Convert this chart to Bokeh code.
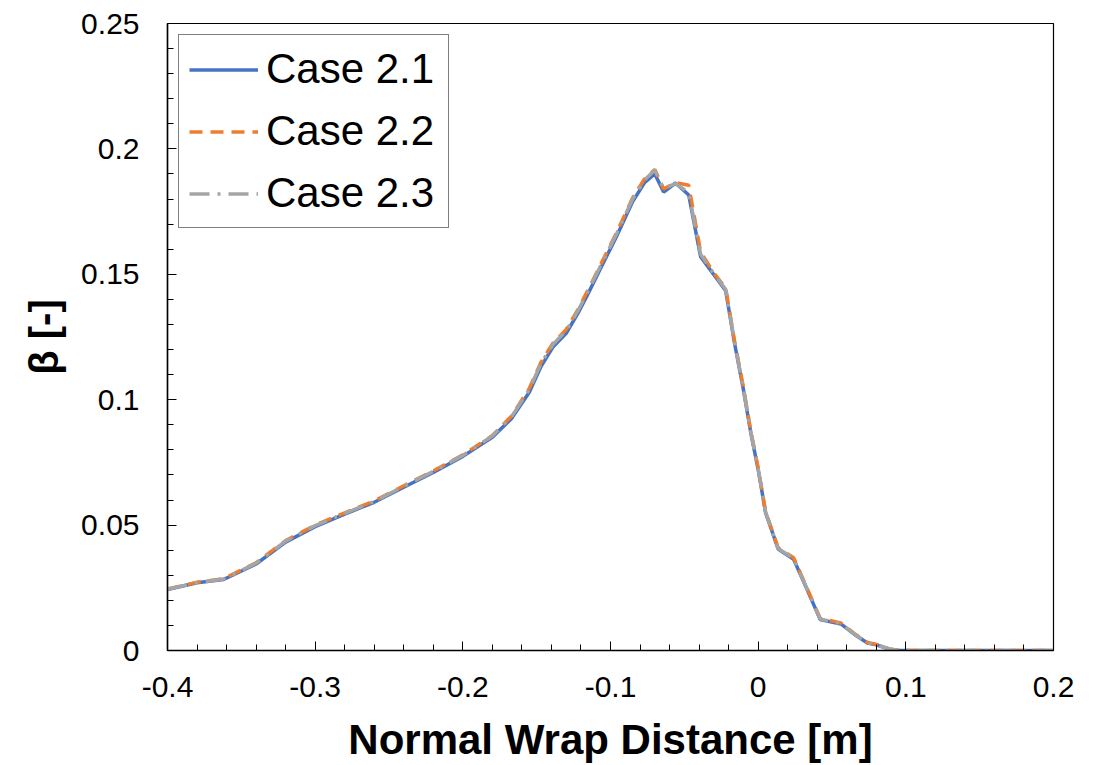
from bokeh.plotting import figure
from bokeh.models import FixedTicker, Legend, LegendItem
from bokeh.embed import file_html
from bokeh.resources import INLINE

# ---- data ----
x_vals = [-0.400, -0.380, -0.362, -0.340, -0.320, -0.300, -0.280, -0.260, -0.240, -0.220,
          -0.200, -0.180, -0.167, -0.155, -0.147, -0.139, -0.130, -0.122, -0.115, -0.107,
          -0.096, -0.085, -0.077, -0.070, -0.064, -0.056, -0.047, -0.039, -0.030, -0.022,
          -0.016, -0.010, -0.005, 0.000, 0.005, 0.0135, 0.024, 0.033, 0.042, 0.056,
          0.065, 0.074, 0.080, 0.089, 0.096, 0.110, 0.130, 0.150, 0.170, 0.190, 0.200]

case21 = [0.0243, 0.0270, 0.0283, 0.0345, 0.0432, 0.0494, 0.0544, 0.0591, 0.0651, 0.0710,
          0.0774, 0.0850, 0.0925, 0.1030, 0.1133, 0.1210, 0.1265, 0.1345, 0.1425, 0.1520,
          0.1650, 0.1790, 0.1865, 0.1900, 0.1828, 0.1864, 0.1816, 0.1570, 0.1498, 0.1435,
          0.1225, 0.1040, 0.0868, 0.0722, 0.0550, 0.0405, 0.0364, 0.0245, 0.0123, 0.0106,
          0.0065, 0.0030, 0.0023, 0.0005, 0.0000, 0.0000, 0.0000, 0.0000, 0.0000, 0.0000, 0.0000]

case22 = [0.0245, 0.0272, 0.0286, 0.0350, 0.0438, 0.0500, 0.0549, 0.0596, 0.0657, 0.0716,
          0.0780, 0.0857, 0.0935, 0.1045, 0.1150, 0.1225, 0.1280, 0.1360, 0.1440, 0.1535,
          0.1665, 0.1805, 0.1880, 0.1918, 0.1840, 0.1866, 0.1855, 0.1590, 0.1505, 0.1445,
          0.1235, 0.1050, 0.0875, 0.0728, 0.0555, 0.0410, 0.0370, 0.0250, 0.0128, 0.0110,
          0.0068, 0.0032, 0.0024, 0.0006, 0.0000, 0.0000, 0.0000, 0.0000, 0.0000, 0.0000, 0.0000]

case23 = [0.0244, 0.0271, 0.0285, 0.0348, 0.0436, 0.0498, 0.0547, 0.0594, 0.0655, 0.0714,
          0.0778, 0.0855, 0.0932, 0.1040, 0.1145, 0.1220, 0.1275, 0.1355, 0.1435, 0.1530,
          0.1660, 0.1800, 0.1875, 0.1916, 0.1841, 0.1862, 0.1825, 0.1580, 0.1502, 0.1440,
          0.1230, 0.1045, 0.0872, 0.0725, 0.0552, 0.0407, 0.0367, 0.0247, 0.0125, 0.0108,
          0.0066, 0.0031, 0.0023, 0.0005, 0.0000, 0.0000, 0.0000, 0.0000, 0.0000, 0.0000, 0.0000]

series_names = ["Case 2.1", "Case 2.2", "Case 2.3"]

x_ticks = [-0.4, -0.3, -0.2, -0.1, 0.0, 0.1, 0.2]
x_tick_labels = ["-0.4", "-0.3", "-0.2", "-0.1", "0", "0.1", "0.2"]
y_ticks = [0.0, 0.05, 0.10, 0.15, 0.20, 0.25]
y_tick_labels = ["0", "0.05", "0.1", "0.15", "0.2", "0.25"]
x_minor = [round(-0.4 + 0.02 * i, 3) for i in range(31)]
y_minor = [round(0.01 * i, 3) for i in range(26)]

FONT = "Liberation Sans"

p = figure(width=1100, height=765, output_backend="svg", toolbar_location=None,
           x_range=(-0.4, 0.2), y_range=(0.0, 0.25),
           min_border_left=167, min_border_right=47, min_border_top=23, min_border_bottom=114)
p.grid.visible = False
p.background_fill_color = "white"
p.border_fill_color = "white"
p.outline_line_color = "black"
p.outline_line_width = 1.2

r1 = p.line(x_vals, case21, line_color="#4472C4", line_width=3.5)
r2 = p.line(x_vals, case22, line_color="#ED7D31", line_width=3.5, line_dash="13 8")
r3 = p.line(x_vals, case23, line_color="#A5A5A5", line_width=3.5, line_dash="20 8 3 8")

for ax, ticks, labels, minor in ((p.xaxis[0], x_ticks, x_tick_labels, x_minor),
                                 (p.yaxis[0], y_ticks, y_tick_labels, y_minor)):
    ax.ticker = FixedTicker(ticks=ticks, minor_ticks=minor)
    ax.major_label_overrides = {t: l for t, l in zip(ticks, labels)}
    ax.major_tick_in = 9
    ax.major_tick_out = 0
    ax.minor_tick_in = 6
    ax.minor_tick_out = 0
    ax.axis_line_color = "black"
    ax.axis_line_width = 1.5
    ax.major_tick_line_color = "black"
    ax.minor_tick_line_color = "black"
    ax.major_label_text_font = FONT
    ax.major_label_text_font_size = "30px"
    ax.major_label_text_color = "black"
    ax.axis_label_text_font = FONT
    ax.axis_label_text_font_style = "bold"
    ax.axis_label_text_color = "black"

p.xaxis.axis_label = "Normal Wrap Distance [m]"
p.xaxis.axis_label_text_font_size = "42px"
p.xaxis.major_label_standoff = 26
p.xaxis.axis_label_standoff = 16

p.yaxis.axis_label = "β [-]"
p.yaxis.axis_label_text_font_size = "40px"
p.yaxis.major_label_standoff = 28
p.yaxis.axis_label_standoff = 12

legend = Legend(items=[LegendItem(label=series_names[0], renderers=[r1]),
                       LegendItem(label=series_names[1], renderers=[r2]),
                       LegendItem(label=series_names[2], renderers=[r3])],
                location="top_left", margin=11, padding=10, spacing=14,
                glyph_width=69, glyph_height=47, label_height=47, label_width=172,
                label_standoff=8,
                label_text_font=FONT, label_text_font_size="42px", label_text_color="black",
                border_line_color="black", border_line_width=1,
                background_fill_color="white", background_fill_alpha=1.0)
p.add_layout(legend, "center")

open("out.html", "w").write(file_html(p, INLINE))
